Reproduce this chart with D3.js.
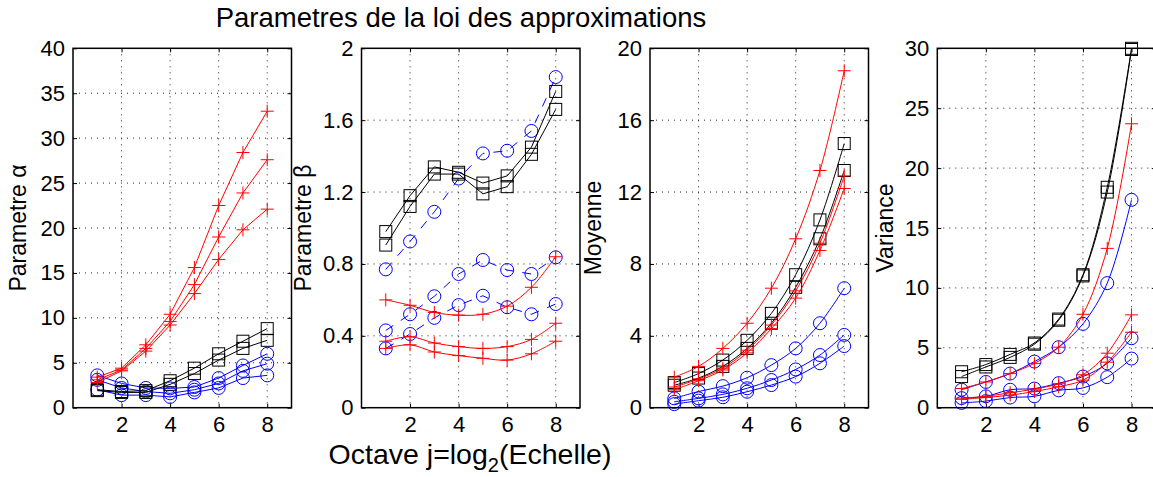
<!DOCTYPE html>
<html><head><meta charset="utf-8">
<script src="https://cdn.jsdelivr.net/npm/d3@7"></script>
<style>
body{margin:0;background:#fff}
svg{display:block;background:#fff}
text{font-family:"Liberation Sans",Arial,Helvetica,sans-serif;fill:#000}
</style>
</head><body><svg id="c" width="1153" height="477"></svg>
<script>
// ---------- data ----------
const octaves = [1, 2, 3, 4, 5, 6, 7, 8];
const xTicks = [2, 4, 6, 8];

// Panel 1 : Parametre alpha
const alphaRed1   = [3.4, 4.4, 7.0, 10.4, 15.6, 22.5, 28.4, 33.0];
const alphaRed2   = [3.1, 4.2, 6.6, 9.6, 13.7, 19.0, 23.9, 27.6];
const alphaRed3   = [2.8, 4.1, 6.3, 9.2, 12.7, 16.5, 19.8, 22.1];
const alphaBlack1 = [2.0, 1.8, 1.9, 3.0, 4.4, 6.0, 7.4, 8.8];
const alphaBlack2 = [1.9, 1.7, 1.7, 2.6, 3.8, 5.3, 6.6, 7.5];
const alphaBlue1  = [3.6, 2.7, 2.2, 2.15, 2.3, 3.3, 4.7, 6.0];
const alphaBlue2  = [3.1, 2.2, 1.8, 1.6, 2.0, 2.7, 4.1, 4.9];
const alphaBlue3  = [2.0, 1.4, 1.4, 1.2, 1.7, 2.2, 3.3, 3.6];
const alphaTicks  = [0, 5, 10, 15, 20, 25, 30, 35, 40];

// Panel 2 : Parametre beta
const betaRed1   = [0.60, 0.57, 0.53, 0.515, 0.52, 0.565, 0.67, 0.84];
const betaRed2   = [0.37, 0.395, 0.36, 0.34, 0.33, 0.34, 0.38, 0.47];
const betaRed3   = [0.33, 0.35, 0.31, 0.29, 0.275, 0.265, 0.30, 0.37];
const betaBlack1 = [0.98, 1.18, 1.34, 1.31, 1.25, 1.29, 1.45, 1.76];
const betaBlack2 = [0.905, 1.12, 1.30, 1.30, 1.19, 1.23, 1.41, 1.66];
const betaBlue1  = [0.77, 0.925, 1.09, 1.275, 1.415, 1.43, 1.54, 1.84];
const betaBlue2  = [0.43, 0.52, 0.62, 0.744, 0.822, 0.766, 0.744, 0.837];
const betaBlue3  = [0.33, 0.41, 0.50, 0.571, 0.623, 0.559, 0.52, 0.577];
const betaTicks  = [0, 0.4, 0.8, 1.2, 1.6, 2];

// Panel 3 : Moyenne
const meanRed1   = [1.7, 2.3, 3.3, 4.7, 6.65, 9.4, 13.2, 18.75];
const meanRed2   = [1.15, 1.6, 2.2, 3.2, 4.6, 6.5, 9.15, 12.9];
const meanRed3   = [1.0, 1.5, 2.1, 3.05, 4.4, 6.1, 8.75, 12.2];
const meanBlack1 = [1.4, 1.9, 2.65, 3.75, 5.25, 7.4, 10.45, 14.7];
const meanBlack2 = [1.25, 1.65, 2.3, 3.3, 4.7, 6.7, 9.4, 13.2];
const meanBlue1  = [0.52, 0.9, 1.2, 1.67, 2.37, 3.3, 4.7, 6.65];
const meanBlue2  = [0.33, 0.52, 0.74, 1.08, 1.54, 2.13, 2.93, 4.05];
const meanBlue3  = [0.2, 0.39, 0.58, 0.89, 1.26, 1.73, 2.47, 3.43];
const meanTicks  = [0, 4, 8, 12, 16, 20];

// Panel 4 : Variance
const varBlack1 = [3.0, 3.6, 4.45, 5.4, 7.4, 11.1, 18.4, 30.0];
const varBlack2 = [2.6, 3.4, 4.2, 5.3, 7.3, 11.0, 18.0, 29.9];
const varRed1   = [1.6, 2.15, 2.85, 3.7, 5.05, 7.8, 13.3, 23.7];
const varRed2   = [0.8, 0.95, 1.25, 1.55, 2.0, 2.75, 4.55, 7.75];
const varRed3   = [0.7, 0.85, 1.05, 1.35, 1.75, 2.3, 3.8, 6.3];
const varBlue1  = [1.5, 2.15, 2.85, 3.85, 5.05, 7.0, 10.4, 17.35];
const varBlue2  = [0.8, 0.95, 1.5, 1.6, 2.05, 2.6, 3.7, 5.8];
const varBlue3  = [0.4, 0.55, 0.85, 0.95, 1.45, 1.65, 2.55, 4.1];
const varTicks  = [0, 5, 10, 15, 20, 25, 30];

const titleText = "Parametres de la loi des approximations";

// ---------- layout / style ----------
const RED = "#ff0000", BLUE = "#0000ff", BLACK = "#000000";
const L = { lefts: [73, 361.5, 650, 937.3], width: 218.5, top: 48.3, bottom: 407.7,
            labelX: [26, 311, 601, 893] };

const panels = [
  { label: "Parametre α", domain: [0, 40], ticks: alphaTicks, fmt: d => d, curve: "linear",
    series: [
      { v: alphaBlue3, c: BLUE, m: "o" }, { v: alphaBlue2, c: BLUE, m: "o" }, { v: alphaBlue1, c: BLUE, m: "o" },
      { v: alphaBlack2, c: BLACK, m: "s" }, { v: alphaBlack1, c: BLACK, m: "s" },
      { v: alphaRed3, c: RED, m: "+" }, { v: alphaRed2, c: RED, m: "+" }, { v: alphaRed1, c: RED, m: "+" } ] },
  { label: "Parametre β", domain: [0, 2], ticks: betaTicks, fmt: d => String(d), curve: "linear",
    series: [
      { v: betaBlue3, c: BLUE, m: "o", dash: true }, { v: betaBlue2, c: BLUE, m: "o", dash: true }, { v: betaBlue1, c: BLUE, m: "o", dash: true },
      { v: betaBlack2, c: BLACK, m: "s" }, { v: betaBlack1, c: BLACK, m: "s" },
      { v: betaRed3, c: RED, m: "+", smooth: true }, { v: betaRed2, c: RED, m: "+", smooth: true }, { v: betaRed1, c: RED, m: "+", smooth: true } ] },
  { label: "Moyenne", domain: [0, 20], ticks: meanTicks, fmt: d => d, curve: "smooth",
    series: [
      { v: meanBlue3, c: BLUE, m: "o" }, { v: meanBlue2, c: BLUE, m: "o" }, { v: meanBlue1, c: BLUE, m: "o" },
      { v: meanBlack2, c: BLACK, m: "s" }, { v: meanBlack1, c: BLACK, m: "s" },
      { v: meanRed3, c: RED, m: "+" }, { v: meanRed2, c: RED, m: "+" }, { v: meanRed1, c: RED, m: "+" } ] },
  { label: "Variance", domain: [0, 30], ticks: varTicks, fmt: d => d, curve: "smooth",
    series: [
      { v: varBlue3, c: BLUE, m: "o" }, { v: varBlue2, c: BLUE, m: "o" }, { v: varBlue1, c: BLUE, m: "o" },
      { v: varBlack2, c: BLACK, m: "s" }, { v: varBlack1, c: BLACK, m: "s" },
      { v: varRed3, c: RED, m: "+" }, { v: varRed2, c: RED, m: "+" }, { v: varRed1, c: RED, m: "+" } ] }
];

const svg = d3.select("#c");
svg.append("rect").attr("width", 1153).attr("height", 477).attr("fill", "#fff");

panels.forEach((p, i) => {
  const x0 = L.lefts[i], x1 = x0 + L.width;
  const x = d3.scaleLinear().domain([0, 9]).range([x0, x1]);
  const y = d3.scaleLinear().domain(p.domain).range([L.bottom, L.top]);
  const g = svg.append("g");

  // grid
  g.append("g").selectAll("line").data(xTicks).join("line")
    .attr("x1", d => x(d)).attr("x2", d => x(d)).attr("y1", L.top).attr("y2", L.bottom)
    .attr("stroke", "#222").attr("stroke-width", 1).attr("stroke-dasharray", "1,5");
  g.append("g").selectAll("line").data(p.ticks.slice(1, -1)).join("line")
    .attr("x1", x0).attr("x2", x1).attr("y1", d => y(d)).attr("y2", d => y(d))
    .attr("stroke", "#222").attr("stroke-width", 1).attr("stroke-dasharray", "1,5");

  // axes (ticks inward on all four sides)
  const yl = g.append("g").attr("transform", `translate(${x0},0)`)
    .call(d3.axisLeft(y).tickValues(p.ticks).tickFormat(p.fmt).tickSize(-4).tickPadding(8));
  const yr = g.append("g").attr("transform", `translate(${x1},0)`)
    .call(d3.axisRight(y).tickValues(p.ticks).tickFormat("").tickSize(-4));
  const xb = g.append("g").attr("transform", `translate(0,${L.bottom})`)
    .call(d3.axisBottom(x).tickValues(xTicks).tickFormat(d => d).tickSize(-4).tickPadding(9));
  const xt = g.append("g").attr("transform", `translate(0,${L.top})`)
    .call(d3.axisTop(x).tickValues(xTicks).tickFormat("").tickSize(-4));
  [yl, yr, xb, xt].forEach(a => {
    a.select(".domain").remove();
    a.selectAll(".tick line").attr("stroke", "#000").attr("stroke-width", 1);
    a.selectAll("text").attr("font-size", 22).attr("font-family", '"Liberation Sans",Arial,sans-serif').attr("fill", "#000");
  });
  xb.selectAll("text").attr("dy", "0.71em");

  // series
  p.series.forEach(s => {
    const smooth = p.curve === "smooth" || s.smooth;
    const line = d3.line().x((d, k) => x(octaves[k])).y(d => y(d))
      .curve(smooth ? d3.curveCatmullRom.alpha(0.5) : d3.curveLinear);
    g.append("path").attr("d", line(s.v)).attr("fill", "none")
      .attr("stroke", s.c).attr("stroke-width", 1)
      .attr("stroke-dasharray", s.dash ? "9,9" : null);
    const mk = g.append("g").selectAll("g").data(s.v).join("g")
      .attr("transform", (d, k) => `translate(${x(octaves[k])},${y(d)})`);
    if (s.m === "o") {
      mk.append("circle").attr("r", 6.5).attr("fill", "none").attr("stroke", s.c).attr("stroke-width", 1);
    } else if (s.m === "s") {
      mk.append("rect").attr("x", -6).attr("y", -6).attr("width", 12).attr("height", 12)
        .attr("fill", "none").attr("stroke", s.c).attr("stroke-width", 1);
    } else {
      mk.append("path").attr("d", "M-6.5,0H6.5M0,-6.5V6.5").attr("stroke", s.c).attr("stroke-width", 1);
    }
  });

  // box
  g.append("rect").attr("x", x0).attr("y", L.top).attr("width", L.width).attr("height", L.bottom - L.top)
    .attr("fill", "none").attr("stroke", "#000").attr("stroke-width", 1.5);

  // y label
  svg.append("text").attr("transform", `translate(${L.labelX[i]},${(L.top + L.bottom) / 2}) rotate(-90)`)
    .attr("text-anchor", "middle").attr("font-size", 23).text(p.label);
});

// title
svg.append("text").attr("x", 461).attr("y", 27).attr("text-anchor", "middle")
  .attr("font-size", 27.5).text(titleText);

// x label with subscript
const xl = svg.append("text").attr("x", 470).attr("y", 464).attr("text-anchor", "middle").attr("font-size", 28.5);
xl.append("tspan").text("Octave j=log");
xl.append("tspan").attr("font-size", 20).attr("dy", 8).text("2");
xl.append("tspan").attr("dy", -8).text("(Echelle)");
</script>
</body></html>
